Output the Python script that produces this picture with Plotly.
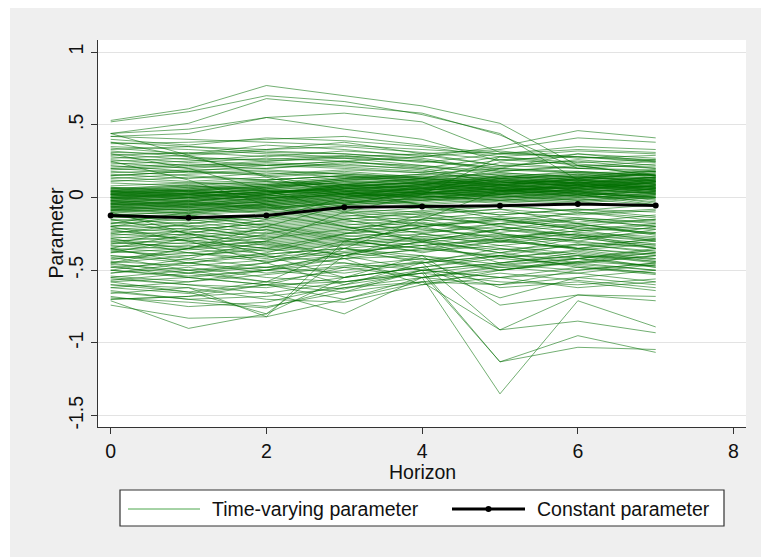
import plotly.graph_objects as go

horizon = [0, 1, 2, 3, 4, 5, 6, 7]

constant_parameter = [-0.124, -0.140, -0.124, -0.067, -0.062, -0.057, -0.044, -0.055]

# Time-varying parameter paths (one list per unit)
tv_upper_outliers = [
    [0.53, 0.61, 0.77, 0.70, 0.63, 0.51, 0.22, 0.15],
    [0.52, 0.59, 0.70, 0.66, 0.57, 0.44, 0.12, 0.08],
    [0.44, 0.51, 0.68, 0.63, 0.58, 0.43, 0.20, 0.18],
    [0.44, 0.47, 0.55, 0.58, 0.52, 0.31, 0.28, 0.25],
    [0.44, 0.29, 0.14, 0.02, -0.05, -0.12, -0.08, -0.10],
    [0.42, 0.44, 0.55, 0.47, 0.40, 0.25, 0.30, 0.27],
    [0.15, 0.18, 0.22, 0.25, 0.28, 0.35, 0.46, 0.41],
    [0.20, 0.22, 0.25, 0.28, 0.30, 0.33, 0.41, 0.38],
]

tv_upper_band = [
    [0.42, 0.40, 0.38, 0.36, 0.33, 0.30, 0.28, 0.26],
    [0.40, 0.36, 0.41, 0.39, 0.35, 0.28, 0.32, 0.30],
    [0.38, 0.35, 0.33, 0.38, 0.30, 0.22, 0.25, 0.20],
    [0.37, 0.38, 0.40, 0.42, 0.36, 0.30, 0.35, 0.33],
    [0.35, 0.33, 0.30, 0.28, 0.25, 0.20, 0.18, 0.15],
    [0.34, 0.30, 0.36, 0.33, 0.28, 0.32, 0.27, 0.29],
    [0.33, 0.35, 0.31, 0.30, 0.26, 0.18, 0.22, 0.21],
    [0.32, 0.28, 0.25, 0.27, 0.22, 0.15, 0.12, 0.14],
    [0.31, 0.30, 0.33, 0.35, 0.31, 0.26, 0.28, 0.24],
    [0.30, 0.26, 0.22, 0.20, 0.17, 0.12, 0.15, 0.10],
    [0.29, 0.31, 0.28, 0.32, 0.29, 0.22, 0.20, 0.23],
    [0.28, 0.24, 0.27, 0.25, 0.20, 0.28, 0.24, 0.26],
    [0.27, 0.29, 0.32, 0.30, 0.27, 0.19, 0.17, 0.18],
    [0.26, 0.22, 0.20, 0.23, 0.19, 0.10, 0.08, 0.12],
    [0.25, 0.27, 0.26, 0.29, 0.24, 0.30, 0.33, 0.31],
    [0.24, 0.20, 0.23, 0.21, 0.18, 0.14, 0.10, 0.07],
    [0.23, 0.25, 0.29, 0.27, 0.25, 0.21, 0.26, 0.22],
    [0.22, 0.18, 0.15, 0.18, 0.14, 0.08, 0.11, 0.09],
    [0.21, 0.23, 0.22, 0.25, 0.21, 0.17, 0.14, 0.16],
    [0.20, 0.17, 0.19, 0.16, 0.13, 0.24, 0.20, 0.19],
    [0.19, 0.21, 0.24, 0.22, 0.20, 0.13, 0.16, 0.13],
    [0.18, 0.15, 0.12, 0.15, 0.11, 0.07, 0.04, 0.06],
    [0.17, 0.19, 0.20, 0.24, 0.22, 0.18, 0.21, 0.25],
    [0.16, 0.13, 0.17, 0.14, 0.10, 0.05, 0.08, 0.03],
    [0.15, 0.18, 0.16, 0.19, 0.17, 0.26, 0.23, 0.20],
    [0.14, 0.11, 0.14, 0.17, 0.13, 0.09, 0.12, 0.10],
    [0.13, 0.16, 0.18, 0.16, 0.14, 0.11, 0.07, 0.11],
    [0.12, 0.10, 0.09, 0.13, 0.16, 0.20, 0.17, 0.14],
    [0.11, 0.14, 0.12, 0.15, 0.12, 0.08, 0.13, 0.16],
    [0.10, 0.08, 0.11, 0.09, 0.06, 0.13, 0.09, 0.05],
]

tv_center = [
    [0.07, 0.05, 0.08, 0.10, 0.08, 0.05, 0.07, 0.04],
    [0.06, 0.08, 0.06, 0.11, 0.09, 0.12, 0.10, 0.13],
    [0.05, 0.03, 0.05, 0.08, 0.10, 0.07, 0.04, 0.08],
    [0.05, 0.07, 0.04, 0.06, 0.04, 0.02, 0.06, 0.02],
    [0.04, 0.02, 0.06, 0.09, 0.07, 0.10, 0.12, 0.09],
    [0.04, 0.05, 0.03, 0.07, 0.11, 0.08, 0.05, 0.11],
    [0.03, 0.01, 0.04, 0.05, 0.03, 0.06, 0.09, 0.07],
    [0.03, 0.04, 0.02, 0.08, 0.06, 0.03, 0.01, 0.05],
    [0.02, 0.00, 0.03, 0.06, 0.08, 0.11, 0.08, 0.12],
    [0.02, 0.03, 0.01, 0.04, 0.02, 0.05, 0.03, 0.00],
    [0.01, -0.01, 0.02, 0.07, 0.05, 0.08, 0.11, 0.06],
    [0.01, 0.02, 0.00, 0.03, 0.06, 0.04, 0.07, 0.10],
    [0.00, -0.02, 0.01, 0.05, 0.03, 0.00, 0.04, 0.01],
    [0.00, 0.01, -0.01, 0.04, 0.07, 0.09, 0.06, 0.08],
    [-0.01, -0.03, 0.00, 0.02, 0.04, 0.07, 0.10, 0.07],
    [-0.01, 0.00, -0.02, 0.03, 0.01, -0.02, 0.02, 0.04],
    [-0.02, -0.04, -0.01, 0.04, 0.06, 0.03, 0.05, 0.09],
    [-0.02, -0.01, -0.03, 0.01, 0.03, 0.06, 0.03, 0.00],
    [-0.03, -0.05, -0.02, 0.02, 0.00, 0.04, 0.08, 0.05],
    [-0.03, -0.02, -0.04, 0.00, 0.05, 0.02, -0.01, 0.03],
    [-0.04, -0.06, -0.03, 0.01, 0.02, 0.05, 0.02, 0.06],
    [-0.04, -0.03, -0.05, -0.01, 0.03, 0.01, 0.04, -0.02],
    [-0.05, -0.07, -0.04, 0.00, -0.02, 0.02, 0.06, 0.03],
    [-0.05, -0.04, -0.06, -0.02, 0.01, -0.01, -0.03, 0.01],
    [-0.06, -0.08, -0.05, -0.01, 0.02, 0.04, 0.01, -0.01],
    [-0.06, -0.05, -0.07, -0.03, -0.01, 0.02, 0.05, 0.08],
    [-0.07, -0.09, -0.06, -0.02, -0.04, -0.01, 0.02, -0.03],
    [-0.07, -0.06, -0.08, -0.04, 0.00, 0.03, 0.00, 0.02],
    [-0.08, -0.10, -0.07, -0.03, -0.05, -0.02, -0.04, 0.00],
    [-0.08, -0.07, -0.09, -0.05, -0.02, 0.00, 0.03, -0.04],
    [-0.09, -0.11, -0.08, -0.04, -0.01, -0.04, -0.01, -0.05],
    [-0.09, -0.08, -0.10, -0.06, -0.03, 0.01, -0.02, 0.01],
    [0.06, 0.04, 0.07, 0.12, 0.14, 0.16, 0.13, 0.18],
    [0.03, 0.06, 0.09, 0.13, 0.11, 0.14, 0.17, 0.15],
    [-0.01, 0.03, 0.05, 0.09, 0.12, 0.15, 0.12, 0.17],
    [0.02, 0.05, 0.07, 0.10, 0.13, 0.10, 0.14, 0.19],
    [-0.04, 0.00, 0.03, 0.08, 0.10, 0.13, 0.16, 0.12],
    [0.00, 0.03, 0.06, 0.11, 0.09, 0.06, 0.10, 0.14],
    [0.04, 0.07, 0.10, 0.14, 0.12, 0.09, 0.06, 0.10],
    [-0.02, 0.01, 0.04, 0.06, 0.08, 0.11, 0.14, 0.11],
    [0.08, 0.10, 0.12, 0.15, 0.13, 0.10, 0.14, 0.12],
    [0.07, 0.04, 0.02, 0.06, 0.09, 0.13, 0.15, 0.18],
    [0.06, 0.09, 0.11, 0.08, 0.05, 0.09, 0.12, 0.07],
    [0.05, 0.02, 0.07, 0.12, 0.15, 0.11, 0.08, 0.13],
    [0.04, 0.06, 0.09, 0.07, 0.10, 0.14, 0.18, 0.15],
    [0.03, 0.00, -0.02, 0.03, 0.07, 0.05, 0.09, 0.14],
    [0.02, 0.04, 0.08, 0.12, 0.10, 0.07, 0.03, 0.08],
    [0.01, 0.03, -0.01, 0.02, 0.06, 0.10, 0.13, 0.09],
    [0.00, -0.03, 0.02, 0.08, 0.11, 0.09, 0.12, 0.16],
    [-0.01, 0.02, 0.05, 0.04, 0.01, 0.05, 0.08, 0.04],
    [-0.02, -0.05, -0.03, 0.02, 0.05, 0.08, 0.06, 0.10],
    [-0.03, 0.00, 0.04, 0.07, 0.04, 0.00, 0.03, 0.07],
    [-0.04, -0.07, -0.05, 0.00, 0.03, 0.07, 0.10, 0.05],
    [-0.05, -0.02, 0.01, 0.05, 0.08, 0.05, 0.01, 0.04],
    [-0.06, -0.09, -0.04, 0.01, -0.01, 0.03, 0.07, 0.11],
    [-0.07, -0.04, -0.08, -0.02, 0.02, -0.02, 0.01, 0.06],
    [-0.08, -0.11, -0.06, -0.01, 0.04, 0.01, -0.02, 0.02],
    [-0.09, -0.06, -0.03, 0.03, 0.00, 0.04, 0.09, 0.06],
    [-0.10, -0.12, -0.09, -0.03, 0.01, -0.03, 0.00, 0.03],
    [-0.10, -0.08, -0.11, -0.05, -0.02, 0.02, 0.05, -0.01],
    [0.05, 0.08, 0.05, 0.02, 0.06, 0.09, 0.05, 0.03],
    [0.02, -0.01, 0.03, 0.09, 0.13, 0.17, 0.14, 0.11],
    [-0.03, -0.06, -0.01, 0.06, 0.09, 0.06, 0.11, 0.14],
    [0.00, 0.02, 0.00, 0.01, 0.04, 0.12, 0.09, 0.06],
    [-0.05, -0.03, 0.02, 0.09, 0.07, 0.04, 0.07, 0.12],
    [0.04, 0.01, 0.04, 0.03, 0.00, 0.03, 0.10, 0.08],
    [-0.08, -0.05, 0.00, 0.04, 0.09, 0.12, 0.08, 0.05],
    [0.01, 0.05, 0.08, 0.13, 0.16, 0.13, 0.10, 0.14],
    [-0.06, -0.03, -0.07, -0.04, 0.03, 0.06, 0.04, 0.00],
    [0.03, 0.05, 0.01, 0.06, 0.03, 0.08, 0.13, 0.17],
]

tv_lower_band = [
    [-0.11, -0.14, -0.12, -0.08, -0.10, -0.06, -0.09, -0.05],
    [-0.12, -0.10, -0.15, -0.11, -0.07, -0.12, -0.08, -0.13],
    [-0.13, -0.16, -0.13, -0.09, -0.12, -0.15, -0.11, -0.08],
    [-0.14, -0.12, -0.17, -0.13, -0.09, -0.05, -0.10, -0.14],
    [-0.15, -0.18, -0.14, -0.10, -0.14, -0.18, -0.14, -0.17],
    [-0.16, -0.13, -0.19, -0.15, -0.11, -0.08, -0.12, -0.09],
    [-0.17, -0.20, -0.16, -0.12, -0.16, -0.13, -0.17, -0.12],
    [-0.18, -0.15, -0.21, -0.17, -0.13, -0.19, -0.15, -0.20],
    [-0.19, -0.22, -0.18, -0.14, -0.18, -0.22, -0.18, -0.15],
    [-0.20, -0.17, -0.23, -0.19, -0.15, -0.10, -0.14, -0.18],
    [-0.21, -0.24, -0.20, -0.16, -0.20, -0.16, -0.21, -0.24],
    [-0.22, -0.19, -0.25, -0.21, -0.17, -0.24, -0.19, -0.22],
    [-0.23, -0.26, -0.22, -0.18, -0.22, -0.27, -0.23, -0.19],
    [-0.24, -0.21, -0.27, -0.23, -0.19, -0.14, -0.18, -0.26],
    [-0.25, -0.28, -0.24, -0.20, -0.24, -0.20, -0.26, -0.29],
    [-0.26, -0.23, -0.29, -0.25, -0.21, -0.28, -0.23, -0.21],
    [-0.27, -0.30, -0.26, -0.22, -0.27, -0.31, -0.27, -0.32],
    [-0.28, -0.25, -0.31, -0.27, -0.23, -0.18, -0.24, -0.27],
    [-0.29, -0.32, -0.28, -0.24, -0.29, -0.25, -0.30, -0.35],
    [-0.30, -0.27, -0.33, -0.29, -0.25, -0.33, -0.28, -0.24],
    [-0.31, -0.34, -0.30, -0.26, -0.31, -0.36, -0.32, -0.37],
    [-0.32, -0.29, -0.35, -0.31, -0.27, -0.22, -0.26, -0.30],
    [-0.33, -0.36, -0.32, -0.28, -0.33, -0.29, -0.35, -0.40],
    [-0.34, -0.31, -0.37, -0.33, -0.29, -0.38, -0.33, -0.29],
    [-0.35, -0.38, -0.34, -0.30, -0.35, -0.41, -0.37, -0.43],
    [-0.36, -0.33, -0.39, -0.35, -0.31, -0.26, -0.31, -0.34],
    [-0.37, -0.40, -0.36, -0.32, -0.37, -0.33, -0.39, -0.45],
    [-0.38, -0.35, -0.41, -0.37, -0.33, -0.42, -0.36, -0.32],
    [-0.40, -0.43, -0.39, -0.35, -0.40, -0.46, -0.42, -0.48],
    [-0.42, -0.38, -0.44, -0.40, -0.36, -0.30, -0.35, -0.39],
    [-0.44, -0.47, -0.43, -0.38, -0.43, -0.38, -0.45, -0.50],
    [-0.12, -0.20, -0.28, -0.22, -0.15, -0.25, -0.30, -0.22],
    [-0.18, -0.10, -0.05, -0.15, -0.25, -0.18, -0.10, -0.16],
    [-0.22, -0.30, -0.35, -0.25, -0.12, -0.08, -0.18, -0.25],
    [-0.25, -0.18, -0.12, -0.20, -0.30, -0.38, -0.28, -0.20],
    [-0.28, -0.38, -0.42, -0.30, -0.20, -0.15, -0.22, -0.30],
    [-0.32, -0.22, -0.18, -0.28, -0.38, -0.30, -0.20, -0.15],
    [-0.35, -0.45, -0.38, -0.25, -0.18, -0.25, -0.35, -0.30],
    [-0.38, -0.28, -0.22, -0.35, -0.45, -0.40, -0.32, -0.38],
    [-0.41, -0.50, -0.45, -0.32, -0.28, -0.35, -0.42, -0.36],
    [-0.43, -0.35, -0.30, -0.40, -0.50, -0.45, -0.38, -0.44],
    [-0.47, -0.55, -0.50, -0.38, -0.33, -0.28, -0.36, -0.42],
    [-0.52, -0.45, -0.40, -0.45, -0.55, -0.50, -0.42, -0.35],
    [-0.15, -0.25, -0.32, -0.40, -0.30, -0.22, -0.28, -0.33],
    [-0.20, -0.12, -0.20, -0.30, -0.35, -0.28, -0.25, -0.28],
    [-0.30, -0.35, -0.25, -0.15, -0.10, -0.20, -0.27, -0.35],
    [-0.36, -0.42, -0.48, -0.40, -0.30, -0.22, -0.15, -0.20],
    [-0.57, -0.52, -0.45, -0.35, -0.42, -0.48, -0.45, -0.40],
    [-0.62, -0.58, -0.50, -0.42, -0.35, -0.40, -0.48, -0.52],
    [-0.65, -0.70, -0.75, -0.65, -0.50, -0.55, -0.62, -0.58],
    [-0.45, -0.40, -0.35, -0.42, -0.60, -0.50, -0.44, -0.47],
]

tv_crossing = [
    [-0.45, -0.35, -0.20, -0.05, 0.05, 0.15, 0.10, 0.12],
    [-0.50, -0.42, -0.30, -0.10, 0.02, 0.28, 0.22, 0.15],
    [-0.35, -0.25, -0.15, 0.00, 0.08, 0.20, 0.30, 0.25],
    [0.30, 0.20, 0.05, -0.10, -0.20, -0.30, -0.25, -0.35],
    [0.25, 0.12, -0.05, -0.20, -0.30, -0.45, -0.40, -0.42],
    [0.38, 0.28, 0.15, 0.05, -0.05, -0.15, -0.20, -0.25],
    [-0.55, -0.50, -0.58, -0.35, -0.15, 0.05, 0.02, -0.05],
    [-0.60, -0.62, -0.82, -0.30, -0.20, -0.15, -0.22, -0.18],
    [-0.58, -0.65, -0.80, -0.40, -0.25, -0.30, -0.35, -0.28],
    [-0.20, -0.30, -0.45, -0.60, -0.45, -0.35, -0.40, -0.48],
    [-0.10, -0.25, -0.40, -0.55, -0.40, -0.50, -0.45, -0.40],
]

tv_bottom = [
    [-0.46, -0.50, -0.48, -0.52, -0.45, -0.40, -0.47, -0.52],
    [-0.48, -0.45, -0.52, -0.47, -0.42, -0.50, -0.44, -0.38],
    [-0.50, -0.54, -0.50, -0.45, -0.50, -0.55, -0.52, -0.58],
    [-0.52, -0.48, -0.55, -0.58, -0.52, -0.46, -0.50, -0.45],
    [-0.54, -0.58, -0.53, -0.48, -0.55, -0.60, -0.55, -0.60],
    [-0.56, -0.60, -0.62, -0.55, -0.48, -0.42, -0.46, -0.50],
    [-0.58, -0.55, -0.60, -0.65, -0.58, -0.52, -0.57, -0.62],
    [-0.62, -0.66, -0.60, -0.58, -0.50, -0.45, -0.40, -0.44],
    [-0.64, -0.70, -0.68, -0.62, -0.55, -0.48, -0.52, -0.46],
    [-0.66, -0.62, -0.70, -0.72, -0.60, -0.55, -0.48, -0.53],
    [-0.68, -0.75, -0.72, -0.60, -0.52, -0.58, -0.60, -0.56],
    [-0.70, -0.68, -0.65, -0.80, -0.55, -0.47, -0.42, -0.47],
    [-0.71, -0.90, -0.80, -0.55, -0.48, -0.40, -0.42, -0.38],
    [-0.74, -0.83, -0.82, -0.70, -0.58, -0.60, -0.50, -0.45],
    [-0.69, -0.72, -0.76, -0.62, -0.58, -0.91, -0.85, -0.93],
    [-0.70, -0.68, -0.60, -0.70, -0.55, -1.35, -0.71, -0.89],
    [-0.60, -0.65, -0.58, -0.63, -0.50, -1.13, -1.03, -1.045],
    [-0.55, -0.60, -0.66, -0.58, -0.52, -1.13, -0.95, -1.065],
    [-0.50, -0.55, -0.60, -0.48, -0.45, -0.91, -0.67, -0.68],
    [-0.45, -0.52, -0.48, -0.42, -0.40, -0.74, -0.67, -0.71],
    [-0.40, -0.45, -0.50, -0.55, -0.48, -0.69, -0.55, -0.50],
    [-0.48, -0.52, -0.58, -0.50, -0.44, -0.62, -0.58, -0.64],
]

y_tick_vals = [1, 0.5, 0, -0.5, -1, -1.5]
y_tick_text = ["1", ".5", "0", "-.5", "-1", "-1.5"]
x_tick_vals = [0, 2, 4, 6, 8]
legend_labels = ["Time-varying parameter", "Constant parameter"]
x_title = "Horizon"
y_title = "Parameter"

GREEN = "rgba(0,110,0,0.62)"
FONT = "Liberation Sans, Arial, sans-serif"
FS = 19.5

fig = go.Figure()
all_paths = tv_upper_outliers + tv_upper_band + tv_center + tv_lower_band + tv_crossing + tv_bottom
for path in all_paths:
    fig.add_trace(go.Scatter(x=horizon, y=path, mode="lines",
                             line=dict(color=GREEN, width=0.9),
                             showlegend=False, hoverinfo="skip"))

fig.add_trace(go.Scatter(x=horizon, y=constant_parameter, mode="lines+markers",
                         line=dict(color="black", width=3),
                         marker=dict(color="black", size=6),
                         showlegend=False))

# plot-area pixel geometry: x 98..745.7, y 40..427
W, H = 763, 557
L, R, T, B = 98, 17, 40, 130
pw, ph = W - L - R, H - T - B

def px(x):
    return (x - L) / pw

def py(y):
    return (H - B - y) / ph

shapes = [
    dict(type="rect", xref="paper", yref="paper", x0=px(-5), x1=px(W + 5), y0=py(8), y1=py(-5),
         fillcolor="white", line=dict(width=0), layer="below"),
    dict(type="rect", xref="paper", yref="paper", x0=px(-5), x1=px(10), y0=py(H + 5), y1=py(-5),
         fillcolor="white", line=dict(width=0), layer="below"),
    dict(type="rect", xref="paper", yref="paper", x0=px(761), x1=px(W + 5), y0=py(H + 5), y1=py(-5),
         fillcolor="white", line=dict(width=0), layer="below"),
    dict(type="rect", xref="paper", yref="paper", x0=px(120), x1=px(724), y0=py(526), y1=py(490),
         fillcolor="white", line=dict(color="#333333", width=1.2)),
    dict(type="line", xref="paper", yref="paper", x0=px(128), x1=px(200), y0=py(509), y1=py(509),
         line=dict(color="rgba(0,130,0,0.7)", width=1)),
    dict(type="line", xref="paper", yref="paper", x0=px(452), x1=px(525), y0=py(509), y1=py(509),
         line=dict(color="black", width=3)),
    dict(type="circle", xref="paper", yref="paper", x0=px(485.5), x1=px(491.5), y0=py(512), y1=py(506),
         fillcolor="black", line=dict(color="black", width=0)),
]

annotations = [
    dict(text=legend_labels[0], xref="paper", yref="paper", x=px(210), y=py(509),
         xanchor="left", yanchor="middle", showarrow=False, font=dict(size=FS, color="#111", family=FONT)),
    dict(text=legend_labels[1], xref="paper", yref="paper", x=px(535), y=py(509),
         xanchor="left", yanchor="middle", showarrow=False, font=dict(size=FS, color="#111", family=FONT)),
    dict(text=y_title, xref="paper", yref="paper", x=px(55.5), y=py(233), textangle=-90,
         xanchor="center", yanchor="middle", showarrow=False, font=dict(size=FS, color="#111", family=FONT)),
    dict(text=x_title, xref="paper", yref="paper", x=px(422), y=py(472.5),
         xanchor="center", yanchor="middle", showarrow=False, font=dict(size=FS, color="#111", family=FONT)),
]

fig.update_layout(
    width=W, height=H,
    margin=dict(l=L, r=R, t=T, b=B, pad=0),
    paper_bgcolor="#efefef",
    plot_bgcolor="white",
    font=dict(family=FONT, size=FS, color="#111"),
    showlegend=False,
    shapes=shapes,
    annotations=annotations,
    xaxis=dict(range=[-0.163, 8.16], tickvals=x_tick_vals, ticks="outside", ticklen=6,
               tickcolor="#333", showline=True, linecolor="#333", linewidth=1.2,
               showgrid=False, zeroline=False, tickfont=dict(size=FS)),
    yaxis=dict(range=[-1.578, 1.083], tickvals=y_tick_vals, ticktext=y_tick_text,
               ticks="outside", ticklen=6, tickcolor="#333", tickangle=-90,
               showline=True, linecolor="#333", linewidth=1.2,
               showgrid=True, gridcolor="#e3e3e3", gridwidth=1.2, zeroline=False,
               tickfont=dict(size=FS)),
)

fig.write_html("out.html")
